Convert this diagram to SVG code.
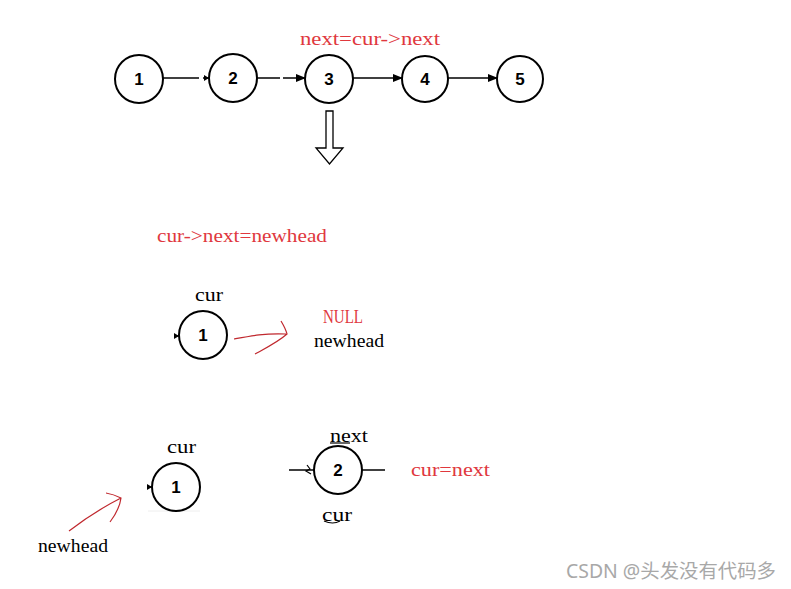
<svg xmlns="http://www.w3.org/2000/svg" width="791" height="589" viewBox="0 0 791 589">
<style>
.n circle{fill:#fff;stroke:#000;stroke-width:2}
.n text{font-family:"Liberation Sans",Arial,sans-serif;font-weight:bold;font-size:17px;text-anchor:middle;fill:#000}
.k{stroke:#000;stroke-width:1.5;fill:none}
.r{stroke:#c0282e;stroke-width:1.2;fill:none}
.t{font-family:"Liberation Serif","Times New Roman",serif;font-size:19px;fill:#000}
.red{fill:#e0383e}
</style>
<defs>
<marker id="ah" markerWidth="10" markerHeight="8" refX="9" refY="4" orient="auto" markerUnits="userSpaceOnUse">
<path d="M0,0 L10,4 L0,8 Z" fill="#000"/>
</marker>
<marker id="sm" markerWidth="5" markerHeight="6" refX="5" refY="3" orient="auto" markerUnits="userSpaceOnUse">
<path d="M0,0 L5,3 L0,6 Z" fill="#000"/>
</marker>
</defs>
<rect width="791" height="589" fill="#fff"/>
<g id="connectors">
<line class="k" x1="163" y1="78" x2="199" y2="78"/>
<line class="k" x1="203" y1="78" x2="209" y2="78" marker-end="url(#sm)"/>
<line class="k" x1="257" y1="78" x2="280" y2="78"/>
<line class="k" x1="283" y1="78" x2="305" y2="78" marker-end="url(#ah)"/>
<line class="k" x1="353" y1="78" x2="402" y2="78" marker-end="url(#ah)"/>
<line class="k" x1="448" y1="78" x2="497" y2="78" marker-end="url(#ah)"/>
<path d="M326,111 H333 V148 H343 L329.5,164 L316,148 H326 Z" fill="#fff" stroke="#000" stroke-width="1.3"/>
<line class="k" x1="174" y1="336" x2="179" y2="336" marker-end="url(#sm)"/>
<line class="k" x1="147" y1="487" x2="152" y2="487" marker-end="url(#sm)"/>
<line x1="148" y1="511" x2="200" y2="511" stroke="#eeeeee" stroke-width="1"/>
<line class="k" x1="289" y1="470" x2="314" y2="470"/>
<path class="k" d="M307,465 L310,469 L306,471 L311,474" style="stroke-width:1.2"/>
<line class="k" x1="362" y1="470" x2="385" y2="470"/>
<path class="r" d="M234,339 C250,336 265,333 286,334 M281,321 C284,326 286,330 287,334 C278,342 266,348 255,354"/>
<path class="r" d="M69,531 C86,518 103,507 121,498 M106,493 C112,494 117,496 121,498 C120,506 116,514 110,522"/>
<line x1="330" y1="443" x2="350" y2="443" stroke="#000" stroke-width="1.2"/>
<path d="M324,521 Q333,525 340,521" stroke="#000" stroke-width="1.2" fill="none"/>
</g>
<g class="n" id="n1"><circle cx="139" cy="79" r="24"/><text x="139" y="85">1</text></g>
<g class="n" id="n2"><circle cx="233" cy="78" r="24"/><text x="233" y="84">2</text></g>
<g class="n" id="n3"><circle cx="329" cy="79" r="24"/><text x="329" y="85">3</text></g>
<g class="n" id="n4"><circle cx="425" cy="79" r="23"/><text x="425" y="85">4</text></g>
<g class="n" id="n5"><circle cx="520" cy="79" r="23"/><text x="520" y="85">5</text></g>
<g class="n" id="m1"><circle cx="203" cy="335" r="24"/><text x="203" y="341">1</text></g>
<g class="n" id="b1"><circle cx="176" cy="487" r="24"/><text x="176" y="493">1</text></g>
<g class="n" id="b2"><circle cx="338" cy="470" r="24"/><text x="338" y="476">2</text></g>
<g id="labels">
<text class="t red" x="300" y="45" textLength="140" lengthAdjust="spacingAndGlyphs">next=cur-&gt;next</text>
<text class="t red" x="157" y="242" textLength="170" lengthAdjust="spacingAndGlyphs">cur-&gt;next=newhead</text>
<text class="t" x="195" y="301" textLength="28" lengthAdjust="spacingAndGlyphs">cur</text>
<text class="t red" x="323" y="323" textLength="40" lengthAdjust="spacingAndGlyphs">NULL</text>
<text class="t" x="314" y="347" textLength="70" lengthAdjust="spacingAndGlyphs">newhead</text>
<text class="t" x="167" y="453" textLength="29" lengthAdjust="spacingAndGlyphs">cur</text>
<text class="t" x="38" y="552" textLength="70" lengthAdjust="spacingAndGlyphs">newhead</text>
<text class="t" x="330" y="442" textLength="38" lengthAdjust="spacingAndGlyphs">next</text>
<text class="t" x="322" y="521" textLength="30" lengthAdjust="spacingAndGlyphs">cur</text>
<text class="t red" x="411" y="476" textLength="79" lengthAdjust="spacingAndGlyphs">cur=next</text>
<text x="566" y="578" font-family="'Noto Sans','Noto Sans CJK SC',sans-serif" font-size="19" fill="#a8a8a8" textLength="210" lengthAdjust="spacingAndGlyphs">CSDN @头发没有代码多</text>
</g>
</svg>
